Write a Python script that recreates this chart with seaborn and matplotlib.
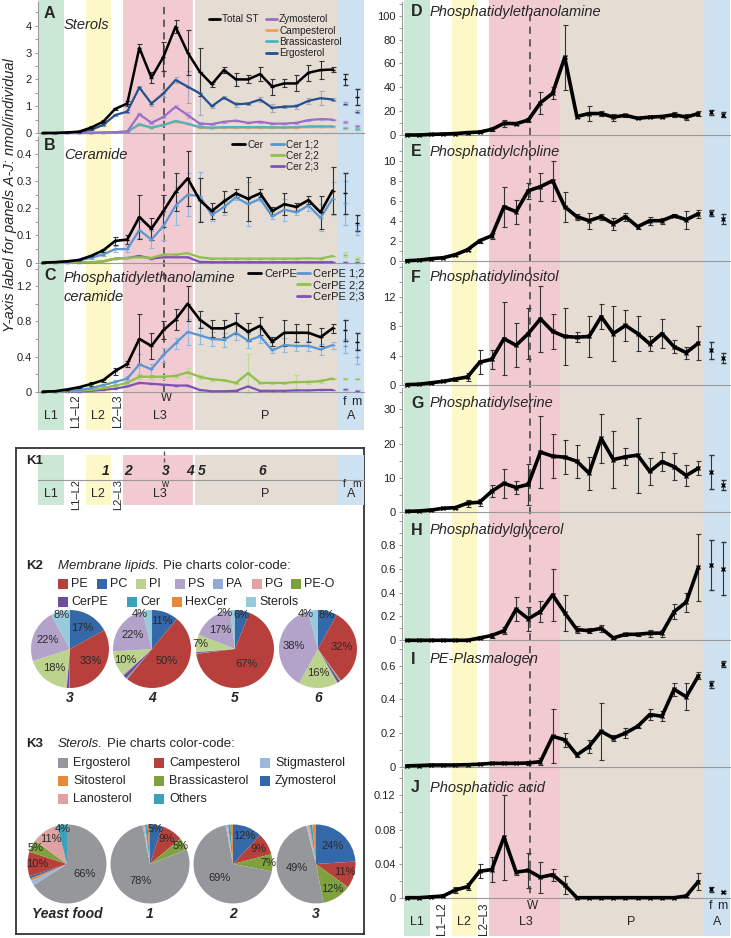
import numpy as np
import matplotlib
matplotlib.use('Agg')
import matplotlib.pyplot as plt
import seaborn as sns
from matplotlib.lines import Line2D
from matplotlib.patches import Rectangle

sns.set_style('white')
plt.rcParams['font.family'] = ['Liberation Sans', 'DejaVu Sans']

# ---------------- data ----------------
stage_x = list(range(25))
adult_x = [25, 26]

# A  Sterols
st_total = [0, 0, 0.02, 0.05, 0.2, 0.42, 0.9, 1.1, 3.18, 2.06, 2.85, 3.97, 3.0, 2.29, 1.82, 2.35, 2.0, 2.0, 2.2, 1.73, 1.85, 1.85, 2.25, 2.35, 2.37]
st_total_err = [0, 0, 0.01, 0.02, 0.05, 0.05, 0.05, 0.08, 0.15, 0.2, 0.55, 0.25, 0.85, 0.9, 0.1, 0.1, 0.25, 0.15, 0.25, 0.3, 0.15, 0.3, 0.3, 0.35, 0.08]
st_total_ad = [2.0, 1.35]
st_total_ad_err = [0.2, 0.3]
st_ergo = [0, 0, 0.02, 0.04, 0.12, 0.3, 0.67, 0.8, 1.7, 1.1, 1.48, 1.98, 1.73, 1.48, 1.0, 1.32, 1.07, 1.1, 1.25, 0.94, 0.98, 1.0, 1.2, 1.3, 1.25]
st_ergo_err = [0, 0, 0, 0.01, 0.02, 0.03, 0.03, 0.04, 0.05, 0.08, 0.15, 0.1, 0.6, 0.8, 0.05, 0.05, 0.1, 0.05, 0.08, 0.15, 0.05, 0.1, 0.1, 0.25, 0.05]
st_ergo_ad = [1.1, 0.8]
st_ergo_ad_err = [0.05, 0.05]
st_zymo = [0, 0, 0, 0, 0.01, 0.02, 0.03, 0.05, 0.7, 0.38, 0.6, 0.98, 0.67, 0.35, 0.33, 0.42, 0.46, 0.38, 0.42, 0.35, 0.35, 0.38, 0.48, 0.52, 0.5]
st_zymo_err = [0, 0, 0, 0, 0, 0.01, 0.01, 0.01, 0.04, 0.03, 0.04, 0.05, 0.1, 0.05, 0.02, 0.03, 0.03, 0.02, 0.03, 0.03, 0.02, 0.03, 0.04, 0.04, 0.03]
st_zymo_ad = [0.4, 0.25]
st_campe = [0, 0, 0, 0, 0, 0.01, 0.03, 0.06, 0.3, 0.2, 0.3, 0.42, 0.35, 0.2, 0.18, 0.2, 0.2, 0.2, 0.2, 0.2, 0.2, 0.2, 0.22, 0.22, 0.22]
st_campe_ad = [0.18, 0.15]
st_brassi = [0, 0, 0, 0, 0, 0.01, 0.03, 0.05, 0.33, 0.2, 0.3, 0.45, 0.35, 0.22, 0.2, 0.22, 0.22, 0.22, 0.22, 0.21, 0.21, 0.22, 0.25, 0.25, 0.25]
st_brassi_ad = [0.2, 0.15]

# B  Ceramide
cer = [0, 0.002, 0.005, 0.01, 0.025, 0.045, 0.08, 0.085, 0.168, 0.125, 0.19, 0.26, 0.31, 0.23, 0.19, 0.225, 0.255, 0.235, 0.255, 0.19, 0.215, 0.205, 0.23, 0.185, 0.265]
cer_err = [0, 0, 0.001, 0.002, 0.005, 0.005, 0.015, 0.015, 0.08, 0.04, 0.06, 0.07, 0.1, 0.08, 0.03, 0.04, 0.015, 0.08, 0.015, 0.015, 0.04, 0.015, 0.015, 0.06, 0.085]
cer_ad = [0.255, 0.145]
cer_ad_err = [0.075, 0.03]
cer12 = [0, 0.002, 0.004, 0.008, 0.018, 0.03, 0.05, 0.05, 0.12, 0.085, 0.135, 0.21, 0.25, 0.245, 0.175, 0.205, 0.24, 0.215, 0.235, 0.17, 0.195, 0.185, 0.21, 0.165, 0.235]
cer12_err = [0, 0, 0, 0.002, 0.004, 0.005, 0.01, 0.01, 0.03, 0.03, 0.05, 0.07, 0.08, 0.09, 0.02, 0.03, 0.01, 0.08, 0.01, 0.01, 0.04, 0.01, 0.02, 0.05, 0.06]
cer12_ad = [0.22, 0.12]
cer12_ad_err = [0.08, 0.02]
cer22 = [0, 0, 0, 0.001, 0.002, 0.005, 0.015, 0.018, 0.02, 0.018, 0.03, 0.03, 0.035, 0.02, 0.015, 0.015, 0.015, 0.015, 0.015, 0.015, 0.015, 0.015, 0.016, 0.015, 0.025]
cer22_ad = [0.03, 0.015]
cer23 = [0, 0, 0, 0, 0.001, 0.005, 0.015, 0.017, 0.025, 0.015, 0.02, 0.02, 0.02, 0.003, 0.002, 0.002, 0.002, 0.002, 0.002, 0.002, 0.002, 0.002, 0.002, 0.002, 0.002]
cer23_ad = [0.003, 0.001]

# C  CerPE
cerpe = [0, 0.005, 0.025, 0.05, 0.087, 0.13, 0.235, 0.315, 0.6, 0.52, 0.7, 0.82, 1.0, 0.82, 0.72, 0.72, 0.78, 0.68, 0.75, 0.57, 0.67, 0.67, 0.67, 0.62, 0.72]
cerpe_err = [0, 0, 0.005, 0.01, 0.02, 0.02, 0.04, 0.03, 0.28, 0.15, 0.1, 0.12, 0.2, 0.1, 0.1, 0.1, 0.12, 0.1, 0.1, 0.05, 0.15, 0.1, 0.1, 0.1, 0.05]
cerpe_ad = [0.7, 0.57]
cerpe_ad_err = [0.12, 0.1]
cerpe12 = [0, 0.002, 0.01, 0.02, 0.04, 0.075, 0.11, 0.15, 0.31, 0.255, 0.42, 0.55, 0.68, 0.64, 0.6, 0.59, 0.67, 0.58, 0.63, 0.47, 0.53, 0.52, 0.52, 0.48, 0.53]
cerpe12_err = [0, 0, 0, 0.005, 0.01, 0.01, 0.02, 0.03, 0.12, 0.06, 0.08, 0.06, 0.15, 0.1, 0.08, 0.08, 0.08, 0.08, 0.08, 0.03, 0.08, 0.06, 0.06, 0.06, 0.04]
cerpe12_ad = [0.52, 0.4]
cerpe12_ad_err = [0.08, 0.08]
cerpe22 = [0, 0, 0.005, 0.01, 0.02, 0.04, 0.07, 0.1, 0.17, 0.17, 0.17, 0.18, 0.22, 0.17, 0.14, 0.13, 0.1, 0.21, 0.1, 0.1, 0.1, 0.11, 0.11, 0.12, 0.15]
cerpe22_err = [0, 0, 0, 0, 0.005, 0.01, 0.01, 0.02, 0.03, 0.02, 0.02, 0.02, 0.05, 0.02, 0.02, 0.01, 0.01, 0.22, 0.01, 0.01, 0.01, 0.08, 0.02, 0.02, 0.01]
cerpe22_ad = [0.15, 0.15]
cerpe23 = [0, 0, 0, 0.002, 0.01, 0.02, 0.035, 0.06, 0.1, 0.09, 0.08, 0.07, 0.07, 0.02, 0.005, 0.005, 0.01, 0.06, 0.01, 0.01, 0.01, 0.015, 0.015, 0.02, 0.02]
cerpe23_ad = [0.03, 0.01]

# D-J  membrane lipids
pe = [0, 0, 0.5, 0.8, 1.2, 2, 2.5, 4.7, 9.8, 9.5, 12.5, 27, 35, 65, 15.5, 18, 18, 15, 16.5, 14, 15, 15.5, 17, 15, 18]
pe_err = [0, 0, 0.2, 0.2, 0.3, 0.3, 0.5, 1.5, 3, 1.5, 1.5, 9, 5, 27, 1, 6, 2, 3, 1, 1, 1, 1, 2, 2.5, 2]
pe_ad = [19, 17]
pe_ad_err = [2, 2]
pc = [0, 0.05, 0.2, 0.3, 0.6, 1.1, 2.0, 2.5, 5.4, 4.9, 7.0, 7.4, 8.0, 5.4, 4.4, 4.0, 4.4, 3.7, 4.4, 3.4, 4.0, 4.0, 4.5, 4.1, 4.7]
pc_err = [0, 0, 0.05, 0.05, 0.1, 0.1, 0.2, 0.3, 2.0, 1.2, 0.8, 1.4, 2.0, 1.5, 0.3, 0.8, 0.3, 0.6, 0.4, 0.2, 0.4, 0.3, 0.15, 0.9, 0.4]
pc_ad = [4.8, 4.2]
pc_ad_err = [0.3, 0.5]
pi = [0.05, 0.1, 0.3, 0.5, 0.8, 1.1, 3.1, 3.5, 6.3, 5.4, 7.0, 9.0, 7.3, 6.6, 6.5, 6.6, 9.3, 7.0, 8.1, 7.0, 5.6, 7.0, 5.2, 4.4, 5.7]
pi_err = [0, 0, 0.1, 0.1, 0.2, 0.6, 1.6, 1.3, 5.0, 3.0, 3.5, 4.5, 2.4, 3.9, 0.7, 2.8, 1.7, 3.8, 2.1, 2.4, 1.0, 2.0, 0.9, 0.8, 2.3]
pi_ad = [4.7, 3.7]
pi_ad_err = [1.1, 0.7]
ps = [0.1, 0.2, 0.5, 1.0, 1.2, 2.5, 2.8, 6.0, 8.3, 7.1, 8.0, 17.5, 16.3, 16.0, 14.8, 11.3, 21.5, 15.3, 16.1, 16.6, 11.8, 14.7, 13.2, 10.6, 12.8]
ps_err = [0, 0, 0.2, 0.3, 0.3, 1.0, 1.0, 1.8, 4.2, 1.8, 6.0, 10.5, 6.5, 5.0, 4.8, 4.8, 7.2, 8.3, 2.5, 11.0, 4.0, 2.7, 4.0, 3.0, 2.0]
ps_ad = [11.6, 7.8]
ps_ad_err = [5.0, 1.5]
pg = [0, 0, 0, 0, 0, 0, 0.02, 0.04, 0.08, 0.26, 0.18, 0.24, 0.38, 0.23, 0.09, 0.08, 0.1, 0.02, 0.05, 0.05, 0.06, 0.06, 0.24, 0.32, 0.61]
pg_err = [0, 0, 0, 0, 0, 0, 0.005, 0.02, 0.03, 0.1, 0.1, 0.09, 0.22, 0.15, 0.03, 0.02, 0.03, 0.01, 0.01, 0.01, 0.03, 0.03, 0.06, 0.08, 0.28]
pg_ad = [0.63, 0.6]
pg_ad_err = [0.21, 0.22]
peo = [0.005, 0.007, 0.01, 0.01, 0.01, 0.012, 0.015, 0.02, 0.02, 0.02, 0.022, 0.03, 0.18, 0.16, 0.07, 0.12, 0.21, 0.17, 0.2, 0.24, 0.31, 0.3, 0.46, 0.415, 0.54]
peo_err = [0, 0, 0.002, 0.002, 0.002, 0.002, 0.003, 0.005, 0.005, 0.004, 0.01, 0.02, 0.16, 0.04, 0.01, 0.04, 0.17, 0.02, 0.03, 0.01, 0.03, 0.03, 0.04, 0.08, 0.02]
peo_ad = [0.49, 0.61]
peo_ad_err = [0.02, 0.02]
pa = [0, 0, 0.001, 0.002, 0.009, 0.013, 0.031, 0.033, 0.071, 0.03, 0.032, 0.024, 0.027, 0.015, 0, 0, 0, 0, 0, 0, 0, 0, 0, 0.002, 0.019]
pa_err = [0, 0, 0.001, 0.002, 0.004, 0.004, 0.008, 0.015, 0.05, 0.003, 0.021, 0.018, 0.007, 0.011, 0, 0, 0, 0, 0, 0, 0, 0, 0, 0.001, 0.01]
pa_ad = [0.01, 0.007]
pa_ad_err = [0.003, 0.001]

# K2 membrane lipid pies (clockwise from 12 o'clock)
k2_cats = ['PC', 'PE', 'HexCer', 'Cer', 'CerPE', 'PE-O', 'PG', 'PA', 'PI', 'PS', 'Sterols']
k2_pie3 = [17, 33, 0.1, 0.2, 1.0, 0.2, 0.3, 0.2, 18, 22, 8]
k2_pie4 = [11, 50, 0.2, 0.3, 1.5, 0.3, 0.4, 0.3, 10, 22, 4]
k2_pie5 = [6, 67, 0.1, 0.1, 0.5, 0.1, 0.1, 0.1, 7, 17, 2]
k2_pie6 = [8, 32, 0.3, 0.3, 1.0, 0.2, 0.1, 0.1, 16, 38, 4]
k2_names = ['3', '4', '5', '6']
k2_legend_row1 = ['PE', 'PC', 'PI', 'PS', 'PA', 'PG', 'PE-O']
k2_legend_row2 = ['CerPE', 'Cer', 'HexCer', 'Sterols']

# K3 sterol pies (clockwise from 12 o'clock)
k3_food_cats = ['Ergosterol', 'Stigmasterol', 'Sitosterol', 'Zymosterol', 'Campesterol', 'Brassicasterol', 'Lanosterol', 'Others']
k3_food = [66, 2, 1, 1, 10, 5, 11, 4]
k3_larva_cats = ['Zymosterol', 'Campesterol', 'Brassicasterol', 'Ergosterol', 'Stigmasterol', 'Lanosterol', 'Others', 'Sitosterol']
k3_pie1 = [5, 9, 5, 78, 0.5, 0.5, 1, 1]
k3_pie2 = [12, 9, 7, 69, 0.5, 0.5, 1, 1]
k3_pie3 = [24, 11, 12, 49, 0.5, 1, 1, 1.5]
k3_names = ['Yeast food', '1', '2', '3']
k3_legend = [['Ergosterol', 'Campesterol', 'Stigmasterol'],
             ['Sitosterol', 'Brassicasterol', 'Zymosterol'],
             ['Lanosterol', 'Others']]

k1_numbers = ['1', '2', '3', '4', '5', '6']
k1_num_pos = [5.2, 7.1, 10.2, 12.2, 13.2, 18.2]

# ---------------- style ----------------
lip_col = {'PE': '#b8403c', 'PC': '#3568a8', 'PI': '#bcd38e', 'PS': '#b3a3cb',
           'PA': '#93a9d8', 'PG': '#e3a3a4', 'PE-O': '#7da23c', 'CerPE': '#6a4e9c',
           'Cer': '#3aa3bb', 'HexCer': '#e8893a', 'Sterols': '#97cbdc'}
ster_col = {'Ergosterol': '#96979b', 'Campesterol': '#b8403c', 'Stigmasterol': '#9cb7de',
            'Sitosterol': '#e8893a', 'Brassicasterol': '#80a23e', 'Zymosterol': '#3568a8',
            'Lanosterol': '#dfa1a2', 'Others': '#3aa3bb'}

C_ZYMO = '#9a6fc8'
C_CAMPE = '#f0a050'
C_BRASSI = '#4fb4bf'
C_ERGO = '#24508f'
C_BLUE = '#5a96d2'
C_GREEN = '#8fc04a'
C_PURP = '#7d52b8'

band_green = '#cbe8d6'
band_yellow = '#fcf8c8'
band_pink = '#f1cbd1'
band_beige = '#e5dcd4'
band_blue = '#cde1f1'

XL = (-0.39, 26.6)
W, H = 731, 938
fig = plt.figure(figsize=(W / 100, H / 100), dpi=100)


def px_axes(x0, y0, x1, y1, **kw):
    return fig.add_axes([x0 / W, 1 - y1 / H, (x1 - x0) / W, (y1 - y0) / H], **kw)


def T(x, y, s, **kw):
    kw.setdefault('va', 'center')
    fig.text(x / W, 1 - y / H, s, **kw)


def bands(ax, sep_white=False):
    ax.axvspan(-0.39, 1.74, color=band_green, lw=0)
    ax.axvspan(3.62, 5.69, color=band_yellow, lw=0)
    ax.axvspan(6.63, 12.51, color=band_pink, lw=0)
    ax.axvspan(12.51, 24.39, color=band_beige, lw=0)
    ax.axvspan(24.39, 26.6, color=band_blue, lw=0)
    if sep_white:
        ax.axvline(12.51, color='white', lw=1.6)


def stage_labels(ax, yW, yL, yR, yfm, fs=9):
    ax.text(10.25, yW, 'W', ha='center', va='center', fontsize=8.5)
    for s, x in [('L1', 0.65), ('L2', 4.55), ('L3', 9.7), ('P', 18.4), ('A', 25.5)]:
        ax.text(x, yL, s, ha='center', va='center', fontsize=fs)
    for s, x in [('L1\u2013L2', 2.75), ('L2\u2013L3', 6.22)]:
        ax.text(x, yR, s, ha='center', va='center', fontsize=fs - 0.5, rotation=90)
    ax.text(25.0, yfm, 'f', ha='center', va='center', fontsize=fs)
    ax.text(26.0, yfm, 'm', ha='center', va='center', fontsize=fs)


# ---------------- background columns ----------------
bgL = px_axes(38, 0, 364, 430)
bgL.set_xlim(*XL); bgL.set_ylim(430, 0); bgL.axis('off')
bands(bgL, sep_white=True)
bgL.vlines(10.05, 7, 392, colors='#555555', linestyles=(0, (4, 3)), lw=1.3)
stage_labels(bgL, 398, 416, 411, 402)

bgR = px_axes(404, 0, 730, 936)
bgR.set_xlim(*XL); bgR.set_ylim(936, 0); bgR.axis('off')
bands(bgR)
bgR.vlines(10.05, 14, 900, colors='#555555', linestyles=(0, (4, 3)), lw=1.3)
stage_labels(bgR, 906, 922, 919, 906)


def panel(x0, x1, top, y0, ytop, ticks, labels, minor):
    ax = px_axes(x0, top, x1, y0)
    ax.patch.set_alpha(0)
    ax.set_xlim(*XL)
    ax.set_ylim(0, ytop)
    for s in ['top', 'right']:
        ax.spines[s].set_visible(False)
    for s in ['left', 'bottom']:
        ax.spines[s].set_color('#9a9a9a')
        ax.spines[s].set_linewidth(0.8)
    ax.set_xticks(range(27))
    ax.set_xticklabels([])
    ax.set_yticks(ticks)
    ax.set_yticklabels(labels)
    ax.set_yticks(minor, minor=True)
    ax.tick_params(axis='x', which='major', length=3, direction='inout', color='#9a9a9a', width=0.7)
    ax.tick_params(axis='y', which='both', length=2.5, direction='out', color='#9a9a9a', width=0.7,
                   labelsize=8, pad=2, labelcolor='#222222', left=True)
    ax.tick_params(axis='y', which='minor', length=2)
    ax.grid(False)
    return ax


def series(ax, vals, errs, avals, aerrs, color, lw, ecolor, marker='_', ms=3.5):
    sns.lineplot(x=stage_x, y=vals, ax=ax, color=color, lw=lw, marker=marker, ms=ms,
                 mew=1.0, mec=color, clip_on=False, errorbar=None, legend=False, zorder=3)
    if errs is not None:
        ax.errorbar(stage_x, vals, yerr=errs, fmt='none', ecolor=ecolor, elinewidth=0.8,
                    capsize=1.8, capthick=0.8, zorder=2, clip_on=False)
    ax.errorbar(adult_x, avals, yerr=aerrs, fmt=marker, color=color, ms=ms, mew=1.0,
                ecolor=ecolor, elinewidth=0.8, capsize=1.8, capthick=0.8, zorder=3, clip_on=False)


def hdl(c, lw=2):
    return Line2D([], [], color=c, lw=lw, marker='_', ms=3.5, mew=1)


def legends(ax, first, rest, x1, x2, ytop, fs=7.2, hl=1.05):
    kw = dict(loc='upper left', bbox_transform=fig.transFigure, frameon=False,
              handlelength=hl, handletextpad=0.25, borderpad=0, borderaxespad=0,
              labelspacing=0.12, fontsize=fs, labelcolor='#222222')
    l1 = ax.legend(handles=[first[0]], labels=[first[1]],
                   bbox_to_anchor=(x1 / W, 1 - ytop / H), **kw)
    ax.add_artist(l1)
    ax.legend(handles=[h for h, _ in rest], labels=[t for _, t in rest],
              bbox_to_anchor=(x2 / W, 1 - ytop / H), **kw)


# ---------------- left column ----------------
axA = panel(38, 364, 2, 133, 4.89, [0, 1, 2, 3, 4], ['0', '1', '2', '3', '4'], [0.5, 1.5, 2.5, 3.5, 4.5])
series(axA, st_campe, None, st_campe_ad, [0.02, 0.02], C_CAMPE, 1.6, '#f5c08a')
series(axA, st_brassi, None, st_brassi_ad, [0.02, 0.02], C_BRASSI, 1.6, '#8fd0d6')
series(axA, st_zymo, st_zymo_err, st_zymo_ad, [0.03, 0.03], C_ZYMO, 1.6, '#c3a6e0')
series(axA, st_ergo, st_ergo_err, st_ergo_ad, st_ergo_ad_err, C_ERGO, 1.6, '#a9a9b5')
series(axA, st_total, st_total_err, st_total_ad, st_total_ad_err, 'black', 1.8, '#333333')
legends(axA, (hdl('black'), 'Total ST'),
        [(hdl(C_ZYMO), 'Zymosterol'), (hdl(C_CAMPE), 'Campesterol'),
         (hdl(C_BRASSI), 'Brassicasterol'), (hdl(C_ERGO), 'Ergosterol')],
        209, 266, 14.5)
T(44, 13, 'A', fontsize=11.5, fontweight='bold')
T(64, 25, 'Sterols', fontsize=10.5, style='italic')

axB = panel(38, 364, 137, 262.7, 0.462, [0, 0.1, 0.2, 0.3, 0.4], ['0', '0.1', '0.2', '0.3', '0.4'],
            [0.05, 0.15, 0.25, 0.35, 0.45])
series(axB, cer23, None, cer23_ad, [0.001, 0.001], C_PURP, 1.6, '#b39ad8')
series(axB, cer22, None, cer22_ad, [0.01, 0.005], C_GREEN, 1.6, '#b9dc8e')
series(axB, cer12, cer12_err, cer12_ad, cer12_ad_err, C_BLUE, 1.6, '#8fb9e3')
series(axB, cer, cer_err, cer_ad, cer_ad_err, 'black', 1.9, '#333333')
legends(axB, (hdl('black'), 'Cer'),
        [(hdl(C_BLUE), 'Cer 1;2'), (hdl(C_GREEN), 'Cer 2;2'), (hdl(C_PURP), 'Cer 2;3')],
        232, 271, 139.5, hl=1.3)
T(44, 145, 'B', fontsize=11.5, fontweight='bold')
T(64, 155, 'Ceramide', fontsize=10.5, style='italic')

axC = panel(38, 364, 265, 391.7, 1.44, [0, 0.4, 0.8, 1.2], ['0', '0.4', '0.8', '1.2'], [0.2, 0.6, 1.0, 1.4])
series(axC, cerpe23, None, cerpe23_ad, [0.005, 0.005], C_PURP, 1.6, '#b39ad8')
series(axC, cerpe22, cerpe22_err, cerpe22_ad, [0.01, 0.01], C_GREEN, 1.6, '#b9dc8e')
series(axC, cerpe12, cerpe12_err, cerpe12_ad, cerpe12_ad_err, C_BLUE, 1.6, '#8fb9e3')
series(axC, cerpe, cerpe_err, cerpe_ad, cerpe_ad_err, 'black', 1.9, '#333333')
legends(axC, (hdl('black'), 'CerPE'),
        [(hdl(C_BLUE), 'CerPE 1;2'), (hdl(C_GREEN), 'CerPE 2;2'), (hdl(C_PURP), 'CerPE 2;3')],
        248, 297, 269, fs=8, hl=1.2)
T(44, 275, 'C', fontsize=11.5, fontweight='bold')
T(64, 278, 'Phosphatidylethanolamine', fontsize=10.5, style='italic')
T(64, 297, 'ceramide', fontsize=10.5, style='italic')

T(10, 195, 'Y-axis label for panels A-J: nmol/individual', fontsize=10.5, style='italic',
  rotation=90, ha='center')

# ---------------- right column ----------------
right_specs = [
    ('D', 'Phosphatidylethanolamine', 2, 135, 111.5, [0, 20, 40, 60, 80, 100], None,
     [10, 30, 50, 70, 90, 110], pe, pe_err, pe_ad, pe_ad_err, 12),
    ('E', 'Phosphatidylcholine', 138, 260.7, 12.27, [0, 2, 4, 6, 8, 10], None,
     [1, 3, 5, 7, 9, 11], pc, pc_err, pc_ad, pc_ad_err, 152),
    ('F', 'Phosphatidylinositol', 263, 385, 16.6, [0, 4, 8, 12], None,
     [2, 6, 10, 14, 16], pi, pi_err, pi_ad, pi_ad_err, 277),
    ('G', 'Phosphatidylserine', 388, 511.7, 36.3, [0, 10, 20, 30], None,
     [5, 15, 25, 35], ps, ps_err, ps_ad, ps_ad_err, 403),
    ('H', 'Phosphatidylglycerol', 514, 640.3, 1.057, [0, 0.2, 0.4, 0.6, 0.8], ['0', '0.2', '0.4', '0.6', '0.8'],
     [0.1, 0.3, 0.5, 0.7, 0.9, 1.0], pg, pg_err, pg_ad, pg_ad_err, 530),
    ('I', 'PE-Plasmalogen', 642, 766.7, 0.741, [0, 0.2, 0.4, 0.6], ['0', '0.2', '0.4', '0.6'],
     [0.1, 0.3, 0.5, 0.7], peo, peo_err, peo_ad, peo_ad_err, 659),
    ('J', 'Phosphatidic acid', 769, 897.7, 0.151, [0, 0.04, 0.08, 0.12], ['0', '0.04', '0.08', '0.12'],
     [0.02, 0.06, 0.1, 0.14], pa, pa_err, pa_ad, pa_ad_err, 788),
]
for (let, title, top, y0, ytop, ticks, labs, minor, v, e, av, ae, ty) in right_specs:
    if labs is None:
        labs = [str(t) for t in ticks]
    ax = panel(402, 730, top, y0, ytop, ticks, labs, minor)
    series(ax, v, e, av, ae, 'black', 2.6, '#333333', marker='x', ms=2.6)
    T(411, ty, let, fontsize=11.5, fontweight='bold')
    T(430, ty, title, fontsize=10.5, style='italic')

# ---------------- K box ----------------
axK = px_axes(16, 448, 364, 934)
axK.set_xlim(16, 364); axK.set_ylim(934, 448)
axK.set_xticks([]); axK.set_yticks([])
axK.patch.set_alpha(0)
for s in axK.spines.values():
    s.set_color('#333333'); s.set_linewidth(1.3); s.set_visible(True)

# K1 timeline
axK1 = px_axes(38, 455, 364, 505)
axK1.set_xlim(*XL); axK1.set_ylim(505, 455)
bands(axK1, sep_white=True)
axK1.patch.set_alpha(0)
for s in ['top', 'right', 'left']:
    axK1.spines[s].set_visible(False)
axK1.spines['bottom'].set_position(('data', 480))
axK1.spines['bottom'].set_color('#9a9a9a')
axK1.set_xticks(range(27)); axK1.set_xticklabels([])
axK1.set_yticks([])
axK1.tick_params(axis='x', length=2.5, direction='inout', color='#9a9a9a', width=0.7)
axK1.vlines(10.05, 451, 469, colors='#555555', linestyles=(0, (3, 2)), lw=1.0, clip_on=False)
for s, x in zip(k1_numbers, k1_num_pos):
    axK1.text(x, 471, s, ha='center', va='center', fontsize=10, fontweight='bold', style='italic')
axK1.text(10.1, 484, 'w', ha='center', va='center', fontsize=7)
axK1.text(25.0, 484, 'f', ha='center', va='center', fontsize=7.5)
axK1.text(26.0, 484, 'm', ha='center', va='center', fontsize=7.5)
for s, x in [('L1', 0.65), ('L2', 4.55), ('L3', 9.7), ('P', 18.4), ('A', 25.5)]:
    axK1.text(x, 494, s, ha='center', va='center', fontsize=9)
for s, x in [('L1\u2013L2', 2.75), ('L2\u2013L3', 6.22)]:
    axK1.text(x, 494, s, ha='center', va='center', fontsize=8, rotation=90, clip_on=False)
T(26, 461, 'K1', fontsize=9.5, fontweight='bold')

# K2 legend
T(26, 566, 'K2', fontsize=9.5, fontweight='bold')
T(58, 566, 'Membrane lipids.', fontsize=9.5, style='italic')
T(163, 566, 'Pie charts color-code:', fontsize=9.5)
row1_x = [58, 97, 136, 175, 213, 252, 291]
row2_x = [58, 127, 172, 246]
for name, x in zip(k2_legend_row1, row1_x):
    axK.add_patch(Rectangle((x, 579), 10, 10, color=lip_col[name], lw=0))
    axK.text(x + 13, 584, name, va='center', fontsize=9, color='#222222')
for name, x in zip(k2_legend_row2, row2_x):
    axK.add_patch(Rectangle((x, 597), 10, 10, color=lip_col[name], lw=0))
    axK.text(x + 13, 602, name, va='center', fontsize=9, color='#222222')


def pie(cx, cy, r, vals, cats, cmap, show, name, thresh, side_align):
    ax = px_axes(cx - r, cy - r, cx + r, cy + r)
    wedges, _ = ax.pie(vals, colors=[cmap[c] for c in cats], startangle=90, counterclock=False,
                       radius=1, wedgeprops=dict(linewidth=0))
    ax.set_xlim(-1, 1); ax.set_ylim(-1, 1)
    for w, v, c in zip(wedges, vals, cats):
        if c in show and v >= thresh:
            th = np.deg2rad((w.theta1 + w.theta2) / 2)
            if v >= 40:
                d = 0.5
            elif v >= 15:
                d = 0.62
            elif v >= 9:
                d = 0.75
            elif v >= 4:
                d = 0.9
            else:
                d = 0.92
            x, y = d * np.cos(th), d * np.sin(th)
            ha = 'center'
            if side_align and v < 5 and y > 0.7:
                ha = 'right' if x < 0 else 'left'
            ax.text(x, y, f'{v:.0f}%', ha=ha, va='center', fontsize=8, color='#2a2a2a')
    T(cx, cy + r + 10, name, ha='center', fontsize=10, fontweight='bold', style='italic')


k2_show = ['PC', 'PE', 'PI', 'PS', 'Sterols']
for cx, vals, nm in zip([70, 152, 235, 318], [k2_pie3, k2_pie4, k2_pie5, k2_pie6], k2_names):
    pie(cx, 649, 39, vals, k2_cats, lip_col, k2_show, nm, 2, True)

# K3 legend
T(26, 744, 'K3', fontsize=9.5, fontweight='bold')
T(58, 744, 'Sterols.', fontsize=9.5, style='italic')
T(107, 744, 'Pie charts color-code:', fontsize=9.5)
col_x = [58, 154, 260]
row_y = [763, 781, 799]
for row, y in zip(k3_legend, row_y):
    for name, x in zip(row, col_x):
        axK.add_patch(Rectangle((x, y - 5), 10, 10, color=ster_col[name], lw=0))
        axK.text(x + 15, y, name, va='center', fontsize=9, color='#222222')

k3_show = list(ster_col.keys())
pie(67, 864, 39.5, k3_food, k3_food_cats, ster_col, k3_show, k3_names[0], 4, False)
for cx, vals, nm in zip([150, 233, 316], [k3_pie1, k3_pie2, k3_pie3], k3_names[1:]):
    pie(cx, 864, 39.5, vals, k3_larva_cats, ster_col, k3_show, nm, 4, False)

fig.savefig('out.png', dpi=100)
